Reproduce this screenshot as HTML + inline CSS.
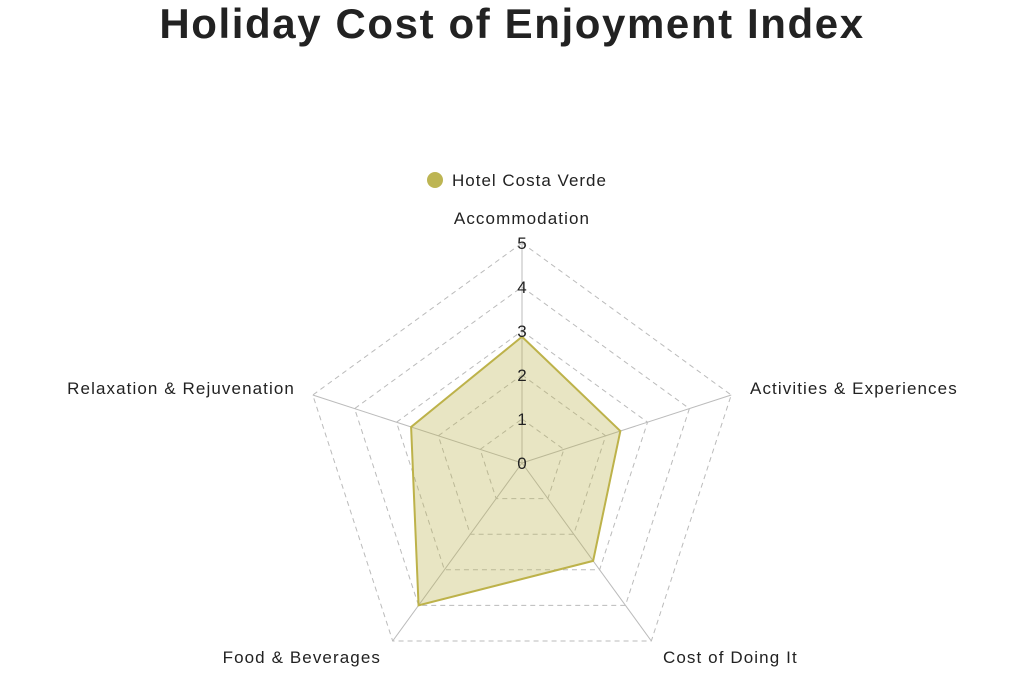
<!DOCTYPE html>
<html><head><meta charset="utf-8"><style>
body{margin:0;background:#fff;width:1024px;height:683px;overflow:hidden;font-family:"Liberation Sans",sans-serif}
</style></head><body>
<svg width="1024" height="683" xmlns="http://www.w3.org/2000/svg" font-family="Liberation Sans, sans-serif">
<text x="512" y="38" text-anchor="middle" font-size="42" font-weight="bold" fill="#222" letter-spacing="1.6">Holiday Cost of Enjoyment Index</text>
<circle cx="435" cy="180" r="8" fill="#bdb553"/>
<text x="452" y="186" font-size="17" fill="#222" letter-spacing="1">Hotel Costa Verde</text>
<g id="grid" fill="none" stroke="#bbb" stroke-width="1" stroke-dasharray="5,4"></g>
<g id="axes" stroke="#bbb" stroke-width="1"></g>
<polygon id="data" fill="rgba(189,181,83,0.35)" stroke="#bdb24a" stroke-width="2"/>
<g id="ticks" font-size="17" fill="#222" text-anchor="middle"></g>
<g font-size="17" fill="#222" letter-spacing="1.1">
<text x="522" y="224" text-anchor="middle">Accommodation</text>
<text x="750" y="394">Activities &amp; Experiences</text>
<text x="663" y="663">Cost of Doing It</text>
<text x="381" y="663" text-anchor="end">Food &amp; Beverages</text>
<text x="295" y="394" text-anchor="end">Relaxation &amp; Rejuvenation</text>
</g>
<script>
var cx=522,cy=463,R=220,ns="http://www.w3.org/2000/svg";
function pt(i,v){var a=i*2*Math.PI/5;return [cx+Math.sin(a)*R*v/5,cy-Math.cos(a)*R*v/5];}
var g=document.getElementById('grid'),ax=document.getElementById('axes'),tk=document.getElementById('ticks');
for(var l=1;l<=5;l++){var p=document.createElementNS(ns,'polygon');var s=[];for(var i=0;i<5;i++)s.push(pt(i,l).join(','));p.setAttribute('points',s.join(' '));g.appendChild(p);}
for(var i=0;i<5;i++){var e=pt(i,5),L=document.createElementNS(ns,'line');L.setAttribute('x1',cx);L.setAttribute('y1',cy);L.setAttribute('x2',e[0]);L.setAttribute('y2',e[1]);ax.appendChild(L);}
for(var l=0;l<=5;l++){var t=document.createElementNS(ns,'text');t.setAttribute('x',cx);t.setAttribute('y',cy-l*R/5+6);t.textContent=l;tk.appendChild(t);}
var v=[2.87,2.35,2.75,4,2.65],s=[];for(var i=0;i<5;i++)s.push(pt(i,v[i]).join(','));
document.getElementById('data').setAttribute('points',s.join(' '));
</script>
</svg>
</body></html>
